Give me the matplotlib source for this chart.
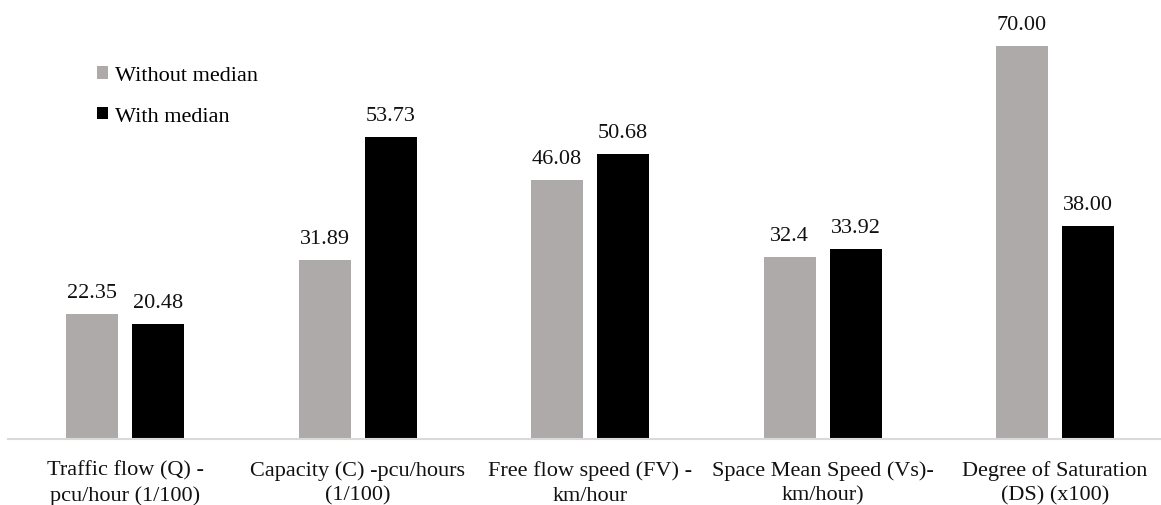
import matplotlib.pyplot as plt
import numpy as np
from matplotlib.patches import Patch

# ── Data ──────────────────────────────────────────────────────────────────────
categories = [
    "Traffic flow (Q) -\npcu/hour (1/100)",
    "Capacity (C) -pcu/hours\n(1/100)",
    "Free flow speed (FV) -\nkm/hour",
    "Space Mean Speed (Vs)-\nkm/hour)",
    "Degree of Saturation\n(DS) (x100)",
]
without_median = [22.35, 31.89, 46.08, 32.4, 70.00]
with_median = [20.48, 53.73, 50.68, 33.92, 38.00]
without_labels = ["22.35", "31.89", "46.08", "32.4", "70.00"]
with_labels = ["20.48", "53.73", "50.68", "33.92", "38.00"]

GRAY = "#AEAAA9"
BLACK = "#000000"
FONT = "Liberation Serif"

plt.rcParams["font.family"] = FONT

W, H = 1161, 506
fig = plt.figure(figsize=(W / 100, H / 100), dpi=100)
# axes from x px 8 .. 1161, y px 0 .. 440
ax = fig.add_axes([8 / W, (H - 440) / H, (W - 8) / W, 440 / H])

x = np.arange(len(categories))
bw = 52 / 232.5
off = 33 / 232.5

b1 = ax.bar(x - off, without_median, bw, color=GRAY, label="Without median")
b2 = ax.bar(x + off, with_median, bw, color=BLACK, label="With median")

for bars, labels in ((b1, without_labels), (b2, with_labels)):
    for rect, lab in zip(bars, labels):
        ax.annotate(lab, (rect.get_x() + rect.get_width() / 2, rect.get_height()),
                    xytext=(0, 17), textcoords="offset pixels",
                    ha="center", va="baseline", fontsize=16, color="#111111")

ax.set_xlim((8 - 125) / 232.5, (1161 - 125) / 232.5)
ax.set_ylim(0, 440 / 5.614)

ax.set_xticks(x)
ax.set_xticklabels(categories, fontsize=16, linespacing=1.42, color="#111111")
ax.tick_params(axis="x", length=0, pad=15)
ax.set_yticks([])

for s in ("top", "right", "left"):
    ax.spines[s].set_visible(False)
ax.spines["bottom"].set_color("#D9D9D9")
ax.spines["bottom"].set_linewidth(1.5)

handles = [Patch(facecolor=GRAY, label="Without median"),
           Patch(facecolor=BLACK, label="With median")]
ax.legend(handles=handles, loc="upper left",
          bbox_to_anchor=(88 / W, (H - 58) / H), bbox_transform=fig.transFigure,
          frameon=False, fontsize=16, handlelength=0.5, handleheight=0.5,
          handletextpad=0.3, labelspacing=0.97, borderaxespad=0)

fig.savefig("out.png", dpi=100)
plt.close(fig)
